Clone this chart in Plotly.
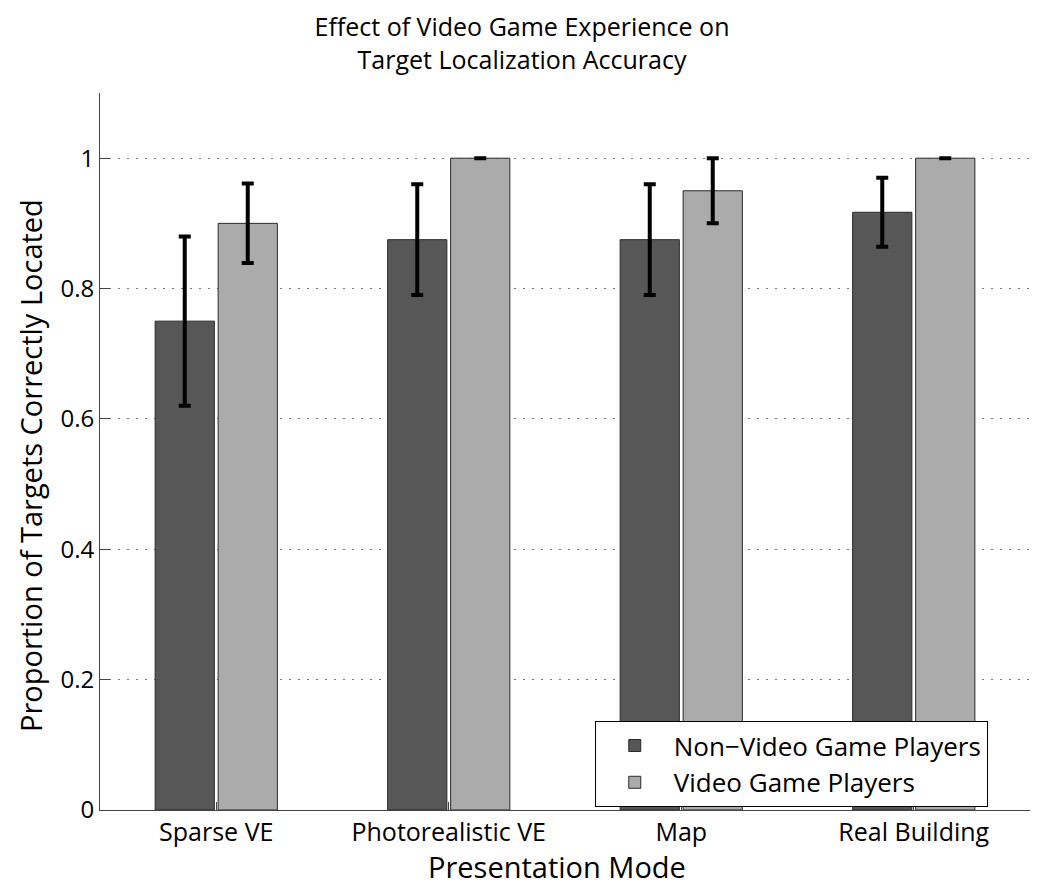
import plotly.graph_objects as go

categories = ["Sparse VE", "Photorealistic VE", "Map", "Real Building"]
non_vgp = [0.75, 0.875, 0.875, 0.917]
non_vgp_err = [0.13, 0.085, 0.085, 0.053]
vgp = [0.90, 1.0, 0.95, 1.0]
vgp_err = [0.061, 0.0, 0.05, 0.0]
y_ticks = [0, 0.2, 0.4, 0.6, 0.8, 1]
y_tick_labels = ["0", "0.2", "0.4", "0.6", "0.8", "1"]

FONT = "Open Sans"

err_style = dict(type="data", color="black", thickness=4, width=6, visible=True)

fig = go.Figure()
fig.add_trace(go.Bar(
    name="Non\u2212Video Game Players", x=categories, y=non_vgp,
    marker=dict(color="#575757", line=dict(color="#2a2a2a", width=1)),
    error_y=dict(array=non_vgp_err, **err_style),
))
fig.add_trace(go.Bar(
    name="Video Game Players", x=categories, y=vgp,
    marker=dict(color="#ababab", line=dict(color="#2a2a2a", width=1)),
    error_y=dict(array=vgp_err, **err_style),
))

fig.update_layout(
    width=1044, height=890,
    margin=dict(l=100, r=14, t=93, b=80, autoexpand=False),
    paper_bgcolor="white", plot_bgcolor="white",
    barmode="group", bargap=0.458, bargroupgap=0.06,
    font=dict(family=FONT, color="black"),
    title=dict(
        text="Effect of Video Game Experience on<br>Target Localization Accuracy",
        x=0.5, xanchor="center", xref="container",
        y=1 - 36 / 890, yanchor="middle", yref="container",
        font=dict(size=25, family=FONT, color="black"),
    ),
    xaxis=dict(
        range=[-0.5, 3.5], showline=True, linecolor="#444444", linewidth=1,
        ticks="inside", ticklen=8, tickcolor="#444444",
        tickfont=dict(size=25, color="black"),
        showgrid=False, zeroline=False,
    ),
    yaxis=dict(
        range=[0, 1.1], showline=True, linecolor="#444444", linewidth=1,
        ticks="inside", ticklen=10, tickcolor="#444444",
        tickvals=y_ticks, ticktext=y_tick_labels,
        tickfont=dict(size=24, color="black"),
        showgrid=True, gridcolor="#777777", griddash="2px,7px", gridwidth=1,
        zeroline=False,
    ),
    annotations=[
        dict(text="Presentation Mode", xref="paper", yref="paper",
             x=(557 - 100) / 930, y=-(866 - 810) / 717,
             xanchor="center", yanchor="middle", showarrow=False,
             font=dict(size=29, color="black")),
        dict(text="Proportion of Targets Correctly Located", xref="paper", yref="paper",
             x=-(100 - 30) / 930, y=(810 - 466) / 717, textangle=-90,
             xanchor="center", yanchor="middle", showarrow=False,
             font=dict(size=29, color="black")),
    ],
    legend=dict(
        x=0.532, y=0.124, xanchor="left", yanchor="top",
        bgcolor="white", bordercolor="black", borderwidth=1,
        font=dict(size=26, color="black"),
        itemwidth=68, tracegroupgap=0, entrywidth=345,
    ),
    showlegend=True,
)

fig.write_html(
    "out.html",
    config={"displayModeBar": False},
    post_script="document.body.style.margin='0';document.body.style.overflow='hidden';",
)
